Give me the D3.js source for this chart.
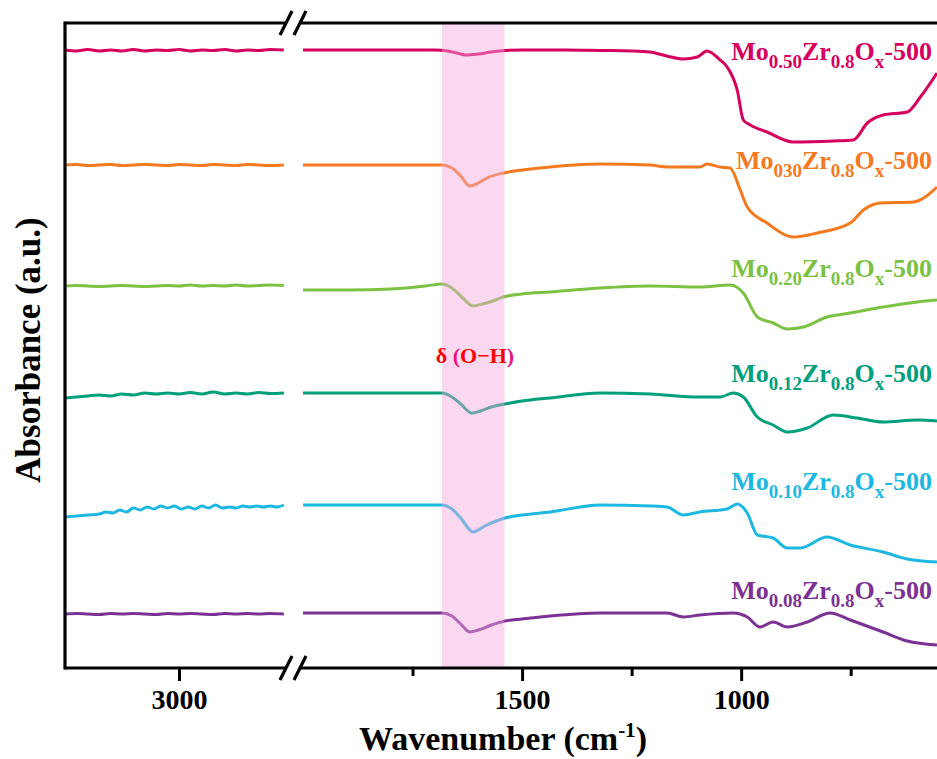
<!DOCTYPE html>
<html><head><meta charset="utf-8">
<script src="https://cdn.jsdelivr.net/npm/d3@7"></script>
<style>body{margin:0;background:#fff}svg{display:block}</style>
</head><body>
<svg id="c" width="937" height="759"></svg>
<script>
// ---------- data (wavenumber cm-1, absorbance a.u. incl. stacking offset) ----------
const seriesNames = ["Mo0.50","Mo0.30","Mo0.20","Mo0.12","Mo0.10","Mo0.08"];
const seriesSubs  = ["0.50","030","0.20","0.12","0.10","0.08"];
const seriesColors = ["#d6005f","#f57a1f","#7cc242","#00a07c","#1cb8e2","#7b3294"];
const labelLevels = [6.10, 5.01, 3.93, 2.88, 1.80, 0.71];

const mo050Left = [[3500,6.18],[3450,6.17],[3400,6.185],[3350,6.17],[3300,6.18],[3250,6.17],[3200,6.185],[3150,6.17],[3100,6.18],[3050,6.175],[3000,6.185],[2950,6.17],[2900,6.18],[2850,6.175],[2800,6.185],[2750,6.17],[2700,6.18],[2650,6.175],[2600,6.185],[2540,6.18]];
const mo050Right = [[2000,6.18],[1900,6.18],[1800,6.18],[1700,6.18],[1670,6.17],[1650,6.15],[1626,6.13],[1600,6.14],[1570,6.16],[1539,6.175],[1500,6.18],[1400,6.18],[1322,6.175],[1250,6.17],[1208,6.16],[1170,6.12],[1132,6.09],[1100,6.11],[1078,6.17],[1048,6.08],[1032,6.01],[1009,5.78],[995,5.48],[979,5.43],[941,5.36],[881,5.26],[790,5.27],[744,5.28],[712,5.45],[676,5.53],[621,5.56],[591,5.71],[553,5.95]];

const mo030Left = [[3500,5.03],[3450,5.035],[3400,5.025],[3350,5.03],[3300,5.035],[3250,5.025],[3200,5.03],[3150,5.035],[3100,5.03],[3050,5.025],[3000,5.035],[2950,5.03],[2900,5.025],[2850,5.035],[2800,5.03],[2750,5.025],[2700,5.035],[2650,5.03],[2600,5.025],[2540,5.03]];
const mo030Right = [[2000,5.03],[1800,5.03],[1700,5.03],[1683,5.03],[1660,5.00],[1640,4.92],[1619,4.82],[1600,4.85],[1580,4.90],[1543,4.95],[1500,4.98],[1436,5.01],[1380,5.03],[1322,5.04],[1208,5.03],[1169,5.01],[1094,5.01],[1078,5.04],[1048,5.01],[1025,5.00],[1002,4.78],[986,4.61],[941,4.45],[881,4.31],[826,4.35],[751,4.45],[721,4.58],[683,4.65],[607,4.66],[553,4.81]];

const mo020Left = [[3500,3.82],[3450,3.825],[3400,3.82],[3350,3.815],[3300,3.82],[3250,3.825],[3200,3.82],[3150,3.815],[3100,3.82],[3050,3.825],[3000,3.82],[2950,3.83],[2900,3.82],[2850,3.825],[2800,3.82],[2750,3.83],[2700,3.82],[2650,3.825],[2600,3.83],[2540,3.825]];
const mo020Right = [[2000,3.78],[1893,3.78],[1800,3.79],[1720,3.82],[1683,3.84],[1660,3.80],[1640,3.72],[1612,3.62],[1590,3.64],[1560,3.68],[1543,3.71],[1500,3.74],[1436,3.76],[1322,3.80],[1208,3.82],[1094,3.81],[1025,3.83],[995,3.75],[963,3.51],[927,3.45],[895,3.39],[858,3.41],[804,3.51],[751,3.55],[676,3.61],[598,3.66],[553,3.68]];

const mo012Left = [[3500,2.70],[3450,2.71],[3400,2.72],[3350,2.73],[3300,2.72],[3250,2.74],[3200,2.73],[3150,2.75],[3100,2.74],[3050,2.75],[3000,2.74],[2950,2.755],[2900,2.74],[2850,2.76],[2800,2.74],[2750,2.75],[2700,2.74],[2650,2.755],[2600,2.745],[2540,2.75]];
const mo012Right = [[2000,2.75],[1800,2.75],[1683,2.75],[1660,2.71],[1640,2.64],[1615,2.55],[1595,2.57],[1570,2.61],[1539,2.64],[1500,2.67],[1436,2.70],[1322,2.75],[1208,2.74],[1094,2.71],[1048,2.71],[1018,2.75],[995,2.71],[963,2.51],[927,2.43],[895,2.36],[849,2.40],[790,2.53],[735,2.50],[676,2.46],[598,2.48],[553,2.47]];

const mo010Left = [[3500,1.51],[3450,1.52],[3400,1.53],[3350,1.54],[3320,1.56],[3290,1.55],[3260,1.58],[3230,1.56],[3200,1.60],[3170,1.58],[3140,1.61],[3110,1.59],[3080,1.62],[3050,1.60],[3020,1.62],[2990,1.59],[2960,1.61],[2930,1.59],[2900,1.62],[2870,1.60],[2840,1.63],[2810,1.60],[2780,1.61],[2750,1.60],[2720,1.62],[2690,1.61],[2660,1.62],[2630,1.61],[2600,1.62],[2570,1.61],[2540,1.63]];
const mo010Right = [[2000,1.63],[1800,1.63],[1683,1.63],[1660,1.59],[1640,1.50],[1612,1.36],[1585,1.42],[1539,1.50],[1500,1.53],[1436,1.56],[1322,1.63],[1208,1.62],[1169,1.61],[1132,1.53],[1094,1.56],[1032,1.59],[1009,1.64],[986,1.55],[963,1.33],[927,1.30],[895,1.20],[865,1.20],[804,1.31],[751,1.23],[676,1.16],[621,1.09],[553,1.06]];

const mo008Left = [[3500,0.54],[3450,0.545],[3400,0.54],[3350,0.535],[3300,0.545],[3250,0.54],[3200,0.545],[3150,0.54],[3100,0.535],[3050,0.545],[3000,0.54],[2950,0.545],[2900,0.54],[2850,0.535],[2800,0.545],[2750,0.54],[2700,0.545],[2650,0.54],[2600,0.545],[2540,0.54]];
const mo008Right = [[2000,0.55],[1800,0.55],[1683,0.55],[1660,0.52],[1640,0.44],[1619,0.36],[1600,0.38],[1570,0.43],[1539,0.47],[1500,0.49],[1436,0.52],[1322,0.55],[1169,0.55],[1132,0.51],[1094,0.53],[1018,0.55],[986,0.51],[957,0.41],[927,0.46],[895,0.41],[849,0.46],[797,0.55],[751,0.48],[676,0.36],[621,0.27],[553,0.23]];

const leftData  = [mo050Left, mo030Left, mo020Left, mo012Left, mo010Left, mo008Left];
const rightData = [mo050Right, mo030Right, mo020Right, mo012Right, mo010Right, mo008Right];

const majorTicksLeft = [3000];
const majorTicksRight = [1500, 1000];
const minorTicksRight = [1750, 1250, 750];
const bandRange = [1683, 1540];
const bandLabel = ["δ ", "(", "O−H", ")"];

// ---------- layout ----------
const W = 937, H = 759;
const plotTop = 23, plotBottom = 668, plotLeft = 65, plotRight = 937;
const breakX = 293;
const serif = "'Liberation Serif','Times New Roman',serif";

const xL = d3.scaleLinear().domain([3500, 2500]).range([plotLeft, breakX]);
const xR = d3.scaleLinear().domain([2000, 553]).range([303, plotRight]);
const y = d3.scaleLinear().domain([0, 6.45]).range([plotBottom, plotTop]);

const svg = d3.select("#c");
svg.append("rect").attr("width", W).attr("height", H).attr("fill", "#fff");

// curves
const lineL = d3.line().x(d => xL(d[0])).y(d => y(d[1])).curve(d3.curveMonotoneX);
const lineR = d3.line().x(d => xR(d[0])).y(d => y(d[1])).curve(d3.curveMonotoneX);
const gCurves = svg.append("g");
seriesNames.forEach((n, i) => {
  gCurves.append("path").attr("d", lineL(leftData[i])).attr("fill", "none")
    .attr("stroke", seriesColors[i]).attr("stroke-width", 3).attr("stroke-linejoin", "round");
  gCurves.append("path").attr("d", lineR(rightData[i])).attr("fill", "none")
    .attr("stroke", seriesColors[i]).attr("stroke-width", 3).attr("stroke-linejoin", "round");
});

// pink band overlay
svg.append("rect")
  .attr("x", xR(bandRange[0])).attr("y", plotTop)
  .attr("width", xR(bandRange[1]) - xR(bandRange[0]))
  .attr("height", plotBottom - plotTop)
  .attr("fill", "#f5a8dc").attr("opacity", 0.45);

// band label
const bl = svg.append("text").attr("x", 475).attr("y", 363)
  .attr("text-anchor", "middle").attr("font-family", serif).attr("font-weight", "bold")
  .attr("font-size", 22).attr("fill", "#ff0000");
bandLabel.forEach((s, k) => {
  bl.append("tspan").attr("fill", (k % 2) ? "#e8137a" : "#ff0000").text(s);
});

// axes: bottom ticks
const axisColor = "#000";
const fmt = d3.format("d");
const gB1 = svg.append("g").attr("transform", `translate(0,${plotBottom})`)
  .call(d3.axisBottom(xL).tickValues(majorTicksLeft).tickFormat(fmt).tickSize(13).tickSizeOuter(0).tickPadding(8));
const gB2 = svg.append("g").attr("transform", `translate(0,${plotBottom})`)
  .call(d3.axisBottom(xR).tickValues(majorTicksRight).tickFormat(fmt).tickSize(13).tickSizeOuter(0).tickPadding(8));
const gB3 = svg.append("g").attr("transform", `translate(0,${plotBottom})`)
  .call(d3.axisBottom(xR).tickValues(minorTicksRight).tickSize(8).tickSizeOuter(0).tickFormat(""));
[gB1, gB2, gB3].forEach(g => {
  g.select(".domain").remove();
  g.selectAll(".tick line").attr("stroke", axisColor).attr("stroke-width", 3);
  g.selectAll(".tick text").attr("font-family", serif).attr("font-weight", "bold")
    .attr("font-size", 28).attr("fill", "#000");
});

// frame lines with break
const frame = svg.append("g").attr("stroke", axisColor).attr("stroke-width", 3.2).attr("fill", "none");
[plotBottom, plotTop].forEach(yy => {
  frame.append("line").attr("x1", plotLeft).attr("x2", breakX - 6).attr("y1", yy).attr("y2", yy);
  frame.append("line").attr("x1", breakX + 6).attr("x2", plotRight + 2).attr("y1", yy).attr("y2", yy);
  [-7, 7].forEach(dx => {
    frame.append("line").attr("x1", breakX + dx - 6).attr("y1", yy + 12)
      .attr("x2", breakX + dx + 6).attr("y2", yy - 12);
  });
});
frame.append("line").attr("x1", plotLeft).attr("x2", plotLeft).attr("y1", plotTop - 1.5).attr("y2", plotBottom + 1.5);

// axis titles
const xt = svg.append("text").attr("x", 503).attr("y", 750).attr("text-anchor", "middle")
  .attr("font-family", serif).attr("font-weight", "bold").attr("font-size", 34).attr("fill", "#000");
xt.append("tspan").text("Wavenumber (cm");
xt.append("tspan").attr("dy", -13).attr("font-size", 21).text("-1");
xt.append("tspan").attr("dy", 13).text(")");

svg.append("text").attr("transform", `translate(40,350) rotate(-90)`)
  .attr("text-anchor", "middle").attr("font-family", serif).attr("font-weight", "bold")
  .attr("font-size", 35).attr("fill", "#000").text("Absorbance (a.u.)");

// series labels
seriesNames.forEach((n, i) => {
  const t = svg.append("text").attr("x", 932).attr("y", y(labelLevels[i]) + 2)
    .attr("text-anchor", "end").attr("font-family", serif).attr("font-weight", "bold")
    .attr("font-size", 26).attr("fill", seriesColors[i]);
  t.append("tspan").text("Mo");
  t.append("tspan").attr("dy", 8).attr("font-size", 19).text(seriesSubs[i]);
  t.append("tspan").attr("dy", -8).text("Zr");
  t.append("tspan").attr("dy", 8).attr("font-size", 19).text("0.8");
  t.append("tspan").attr("dy", -8).text("O");
  t.append("tspan").attr("dy", 8).attr("font-size", 19).text("x");
  t.append("tspan").attr("dy", -8).text("-500");
});
</script>
</body></html>
